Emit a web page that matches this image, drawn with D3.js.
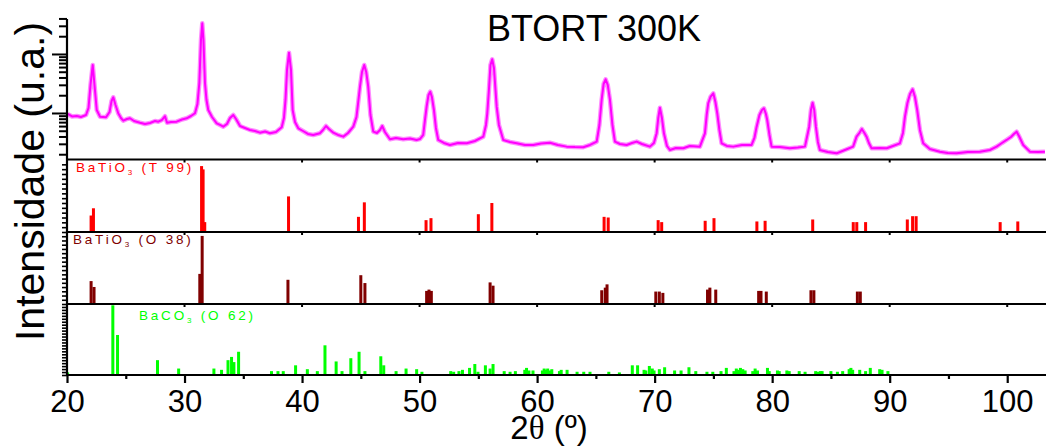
<!DOCTYPE html>
<html><head><meta charset="utf-8">
<script src="https://cdn.jsdelivr.net/npm/d3@7"></script>
<style>body{margin:0;background:#fff}svg{display:block}</style>
</head><body><svg id="c" width="1046" height="446"></svg>
<script>
// ---------- data ----------
const title = "BTORT 300K";
const yLabel = "Intensidade (u.a.)";
const xTickMajor = [20, 30, 40, 50, 60, 70, 80, 90, 100];
const xTickMinor = [25, 35, 45, 55, 65, 75, 85, 95];

// measured pattern (2theta, counts)
const twoTheta = [20.06,20.43,20.83,21.19,21.62,21.83,22.0,22.19,22.34,22.53,22.81,23.32,23.62,23.79,23.94,24.13,24.36,24.59,24.79,25.10,25.36,25.70,26.21,26.64,27.06,27.49,27.77,28.08,28.34,28.51,28.85,29.33,29.78,30.18,30.55,30.89,31.10,31.26,31.40,31.51,31.61,31.74,31.87,32.02,32.34,32.74,33.02,33.30,33.61,33.87,34.15,34.38,34.72,35.14,35.57,35.99,36.42,36.85,37.27,37.78,38.27,38.46,38.59,38.72,38.89,39.06,39.20,39.40,39.68,40.08,40.50,40.95,41.52,41.78,42.04,42.29,42.66,43.06,43.51,43.91,44.36,44.63,44.80,44.93,45.10,45.29,45.46,45.63,45.82,46.06,46.37,46.63,46.82,47.05,47.48,47.99,48.61,49.18,49.75,50.03,50.31,50.46,50.60,50.76,50.91,51.05,51.22,51.39,51.59,52.07,52.58,53.27,54.01,54.71,55.42,55.65,55.76,55.90,56.03,56.18,56.33,56.46,56.56,56.75,57.12,57.69,58.26,58.97,59.67,60.33,61.09,61.77,62.51,63.22,63.93,64.50,65.07,65.30,65.49,65.66,65.83,66.01,66.20,66.41,66.62,67.05,67.62,68.07,68.47,68.92,69.60,69.94,70.17,70.31,70.45,70.62,70.79,71.05,71.30,71.81,72.43,73.00,73.85,74.28,74.43,74.56,74.75,74.99,75.17,75.33,75.51,75.70,76.15,76.69,77.43,78.25,78.49,78.68,78.92,79.13,79.30,79.47,79.58,79.77,79.95,80.66,81.51,82.19,82.79,83.15,83.30,83.44,83.58,83.72,83.89,84.06,84.74,85.48,86.19,86.89,87.18,87.42,87.63,87.85,88.03,88.23,88.46,89.17,89.74,90.28,90.87,91.13,91.30,91.51,91.73,91.95,92.15,92.34,92.57,92.85,93.42,94.27,94.95,95.69,96.65,97.67,98.53,99.10,99.55,99.95,100.32,100.57,100.80,101.00,101.36,101.93,102.61,103.21];
const counts = [962,873,889,855,925,1215,2983,6510,2983,1124,866,846,1040,1597,1845,1366,988,823,740,791,813,732,685,651,677,732,712,761,880,685,704,712,776,813,889,988,1420,3225,17270,33100,17270,3225,1660,1124,855,669,626,586,651,823,925,791,602,557,515,495,464,486,453,476,573,823,1660,5356,10520,5356,1124,704,550,495,441,424,453,515,602,536,464,424,397,458,586,855,1660,2790,4955,6510,4955,2790,925,482,458,515,602,476,358,377,358,370,349,362,424,761,1279,2018,2296,1867,1124,557,349,310,287,310,306,335,397,626,988,2454,6510,8130,5790,2454,1279,626,349,323,306,287,287,304,314,287,269,265,263,287,327,626,1660,3100,3725,2983,1660,626,327,298,287,310,327,298,269,310,453,823,1230,823,453,276,236,255,252,276,269,453,925,1460,1867,2157,1536,988,515,306,276,269,287,287,377,586,925,1124,1201,962,761,424,269,265,252,260,269,586,1124,1495,1124,586,323,236,218,207,236,269,397,458,536,458,397,310,252,255,252,276,306,458,866,1477,2099,2520,1867,1124,515,306,245,221,210,207,218,221,236,269,310,349,392,441,482,407,287,221,218,221];

// reference stick patterns
const t99Pos = [22.05,22.25,31.45,31.58,31.72,38.85,44.8,45.3,50.55,50.97,55.0,56.15,65.7,66.05,70.3,70.6,74.3,75.05,78.7,79.4,83.45,86.9,87.2,87.95,91.5,91.95,92.25,99.4,100.9];
const t99Int = [25,36,100,95,15,54,23,45,18,21,27,44,23,22,18,15,17,21,16,17,19,15,15,15,19,24,24,15,16];

const o38Pos = [22.05,22.3,31.3,31.5,38.8,45.0,45.35,50.6,50.8,51.0,56.0,56.25,65.5,65.8,65.95,70.1,70.4,70.7,74.5,74.7,75.2,78.85,79.05,79.5,83.3,83.55,87.25,87.5];
const o38Int = [35,26,46,104,37,44,32,20,22,20,33,28,21,25,30,19,19,17,22,25,22,20,20,19,21,21,19,19];

const bacoPos = [20.05,23.9,24.3,27.7,29.5,32.5,33.15,33.7,34.0,34.2,34.6,37.4,37.95,38.4,39.45,40.45,41.3,41.95,42.9,43.4,44.15,44.85,45.35,46.7,46.95,48.0,48.85,49.75,50.2,52.65,52.9,53.35,53.65,54.25,54.7,54.97,55.6,56.0,56.25,57.2,57.7,58.15,58.95,59.1,59.3,59.65,60.45,60.6,60.75,60.9,61.05,61.25,61.9,62.05,62.55,63.4,63.97,64.5,66.1,67.0,68.1,68.55,69.1,69.25,69.55,69.8,69.95,70.4,70.85,71.7,72.25,72.92,73.5,74.45,74.95,75.65,76.1,76.75,76.95,77.1,77.3,77.5,77.7,78.35,78.55,78.75,79.6,79.75,80.45,80.6,81.25,81.45,82.3,82.8,83.7,83.9,84.1,84.25,85.0,85.55,86.0,86.55,86.7,86.85,87.45,87.95,88.35,89.15,89.35,89.85];
const bacoInt = [4,108,62,23,10,10,8,23,28,20,36,6,6,6,15,9,6,46,21,6,26,36,6,29,15,6,10,9,5,6,5,6,8,11,17,5,15,10,17,6,5,6,8,11,7,7,7,10,8,10,7,9,6,8,8,5,5,5,5,4,15,15,8,7,14,10,7,9,12,7,7,12,6,5,5,6,11,6,10,8,11,9,7,6,10,7,11,6,7,6,7,6,6,5,6,5,6,6,6,5,6,9,11,8,8,6,11,9,8,6];

const phases = [
  {name: "BaTiO", sub: "3", rest: " (T 99)", pos: t99Pos, val: t99Int, color: "#FF0000", lx: 76, ly: 172},
  {name: "BaTiO", sub: "3", rest: " (O 38)", pos: o38Pos, val: o38Int, color: "#800000", lx: 73, ly: 244},
  {name: "BaCO", sub: "3", rest: " (O 62)", pos: bacoPos, val: bacoInt, color: "#00FF00", lx: 139, ly: 320}
];

// ---------- layout ----------
const svg = d3.select("#c");
const L = 67, R = 1046;
const topY0 = 19;
const panelEdges = [159.5, 232, 304, 375];
const font = "'Liberation Sans', Arial, sans-serif";

const x = d3.scaleLinear().domain([20, 103.3]).range([L, R]);
const yTop = d3.scaleLog().domain([166, 40700]).range([159, 18]);

// measured line (wide faint band under a solid line, imitating the noisy trace)
const pts = twoTheta.map((t, i) => [t, counts[i]]);
const lineGen = d3.line().x(d => x(d[0])).y(d => yTop(d[1]));
svg.append("path").datum(pts)
  .attr("fill", "none").attr("stroke", "#FF00FF").attr("stroke-opacity", 0.45)
  .attr("stroke-width", 4.5).attr("stroke-linejoin", "round").attr("d", lineGen);
svg.append("path").datum(pts)
  .attr("fill", "none").attr("stroke", "#FF00FF")
  .attr("stroke-width", 2).attr("stroke-linejoin", "round").attr("d", lineGen);

// top-panel log axis ticks
const majorLog = [1000, 10000];
const minorLog = [];
[100, 1000, 10000].forEach(dec => { for (let k = 2; k <= 9; k++) { const v = dec * k; if (v >= 166 && v <= 40700) minorLog.push(v); } });
const gTopMaj = svg.append("g").attr("transform", `translate(${L},0)`)
  .call(d3.axisLeft(yTop).tickValues(majorLog).tickSize(15).tickFormat(""));
const gTopMin = svg.append("g").attr("transform", `translate(${L},0)`)
  .call(d3.axisLeft(yTop).tickValues(minorLog).tickSize(8).tickFormat(""));
[gTopMaj, gTopMin].forEach(g => { g.select(".domain").remove(); g.selectAll("line").attr("stroke", "#000").attr("stroke-width", 2); });

// stick panels
phases.forEach((p, i) => {
  const y0 = panelEdges[i + 1], y1 = panelEdges[i];
  const y = d3.scaleLinear().domain([0, 110]).range([y0, y1]);
  svg.append("g").selectAll("rect").data(p.pos.map((v, j) => [v, p.val[j]]))
    .join("rect")
    .attr("x", d => x(d[0]) - 1.5)
    .attr("width", 3)
    .attr("y", d => y(d[1]))
    .attr("height", d => y(0) - y(d[1]))
    .attr("fill", p.color);
  // left ticks
  const nT = [15, 17, 24][i];
  const tv = d3.range(0, 110, 110 / nT);
  const ga = svg.append("g").attr("transform", `translate(${L},0)`)
    .call(d3.axisLeft(y).tickValues(tv).tickSize(5).tickFormat(""));
  ga.select(".domain").remove();
  ga.selectAll("line").attr("stroke", "#000").attr("stroke-width", 1.6);
  // label
  const t = svg.append("text").attr("x", p.lx).attr("y", p.ly)
    .attr("fill", p.color).attr("font-family", font).attr("font-size", 13.5)
    .attr("letter-spacing", "2.8px");
  t.append("tspan").text(p.name);
  t.append("tspan").text(p.sub).attr("font-size", 8).attr("dy", 3);
  t.append("tspan").text(p.rest).attr("dy", -3);
});

// separators with small ticks
panelEdges.slice(0, 3).forEach(yy => {
  svg.append("line").attr("x1", L).attr("x2", R).attr("y1", yy).attr("y2", yy)
    .attr("stroke", "#000").attr("stroke-width", 2);
  svg.append("g").selectAll("line").data(xTickMajor).join("line")
    .attr("x1", d => x(d)).attr("x2", d => x(d)).attr("y1", yy).attr("y2", yy + 3)
    .attr("stroke", "#000").attr("stroke-width", 2);
});

// bottom axis
const gx = svg.append("g").attr("transform", `translate(0,${panelEdges[3]})`)
  .call(d3.axisBottom(x).tickValues(xTickMajor).tickSize(8).tickPadding(7).tickFormat(d3.format("d")));
gx.select(".domain").attr("stroke-width", 2).attr("d", `M${L},0H${R}`);
gx.selectAll("line").attr("stroke-width", 2.2);
gx.selectAll("text").attr("font-family", font).attr("font-size", 31).attr("fill", "#000");
const gxm = svg.append("g").attr("transform", `translate(0,${panelEdges[3]})`)
  .call(d3.axisBottom(x).tickValues(xTickMinor).tickSize(4).tickFormat(""));
gxm.select(".domain").remove();
gxm.selectAll("line").attr("stroke-width", 2.2);

// left axis line
svg.append("line").attr("x1", L).attr("x2", L).attr("y1", topY0).attr("y2", panelEdges[3] + 1)
  .attr("stroke", "#000").attr("stroke-width", 2.2);

// title
svg.append("text").attr("x", 487).attr("y", 41).attr("font-family", font)
  .attr("font-size", 36).attr("fill", "#000").text(title);

// axis titles
svg.append("text").attr("transform", "translate(44,181.5) rotate(-90)")
  .attr("text-anchor", "middle").attr("font-family", font).attr("font-size", 41)
  .attr("fill", "#000").text(yLabel);

const xl = svg.append("text").attr("x", 549).attr("y", 439).attr("text-anchor", "middle")
  .attr("font-family", font).attr("font-size", 33).attr("fill", "#000");
xl.append("tspan").text("2");
xl.append("tspan").text("θ").attr("font-family", "'Liberation Serif', 'Times New Roman', serif");
xl.append("tspan").text(" (º)");
</script></body></html>
